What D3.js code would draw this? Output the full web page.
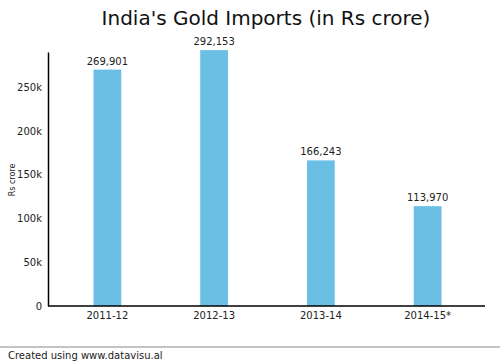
<!DOCTYPE html>
<html><head><meta charset="utf-8">
<script src="https://cdn.jsdelivr.net/npm/d3@7"></script>
<style>body{margin:0;background:#fff;}svg{display:block;font-family:"DejaVu Sans",sans-serif;}</style>
</head><body>
<script>
const categories = ["2011-12","2012-13","2013-14","2014-15*"];
const values = [269901, 292153, 166243, 113970];
const yTicks = [0, 50000, 100000, 150000, 200000, 250000];
const yTickLabels = ["0","50k","100k","150k","200k","250k"];
const title = "India's Gold Imports (in Rs crore)";
const yTitle = "Rs crore";
const footer = "Created using www.datavisu.al";

const W = 500, H = 363;
const svg = d3.select("body").append("svg").attr("width", W).attr("height", H);

const x = d3.scaleBand().domain(categories).range([54, 481]).paddingInner(0.74).paddingOuter(0.37);
const y = d3.scaleLinear().domain([0, 290000]).range([306, 52]);

svg.append("text").attr("x", 266).attr("y", 25).attr("text-anchor", "middle")
  .attr("font-size", 20).attr("fill", "#111").text(title);

svg.selectAll("rect.bar").data(values).join("rect").attr("class","bar")
  .attr("x", (d,i) => x(categories[i])).attr("width", x.bandwidth())
  .attr("y", d => y(d)).attr("height", d => y(0) - y(d))
  .attr("fill", "#6bbfe4");

svg.selectAll("text.val").data(values).join("text").attr("class","val")
  .attr("x", (d,i) => x(categories[i]) + x.bandwidth()/2).attr("y", d => y(d) - 5)
  .attr("text-anchor", "middle").attr("font-size", 10).attr("fill", "#222")
  .text(d => d3.format(",")(d));

const yAxis = d3.axisLeft(y).tickValues(yTicks).tickFormat((d,i) => yTickLabels[i]).tickSize(0).tickPadding(6);
const gy = svg.append("g").attr("transform", "translate(48,0)").call(yAxis);
gy.select(".domain").attr("stroke", "#000").attr("stroke-width", 1.5);
gy.selectAll("text").attr("font-size", 10).attr("fill", "#222").attr("font-family", "DejaVu Sans");

const xAxis = d3.axisBottom(x).tickSize(0).tickPadding(6);
const gx = svg.append("g").attr("transform", "translate(0,306)").call(xAxis);
gx.select(".domain").remove();
gx.selectAll("text").attr("font-size", 10).attr("fill", "#222").attr("font-family", "DejaVu Sans");
svg.append("line").attr("x1", 48).attr("x2", 485).attr("y1", 306).attr("y2", 306)
  .attr("stroke", "#000").attr("stroke-width", 1.5);

svg.append("text").attr("transform", "translate(15,180) rotate(-90)").attr("text-anchor", "middle")
  .attr("font-size", 8).attr("fill", "#222").text(yTitle);

svg.append("line").attr("x1", 0).attr("x2", W).attr("y1", 347).attr("y2", 347)
  .attr("stroke", "#888").attr("stroke-width", 1);
svg.append("text").attr("x", 8).attr("y", 359).attr("font-size", 10).attr("fill", "#222").text(footer);
</script>
</body></html>
